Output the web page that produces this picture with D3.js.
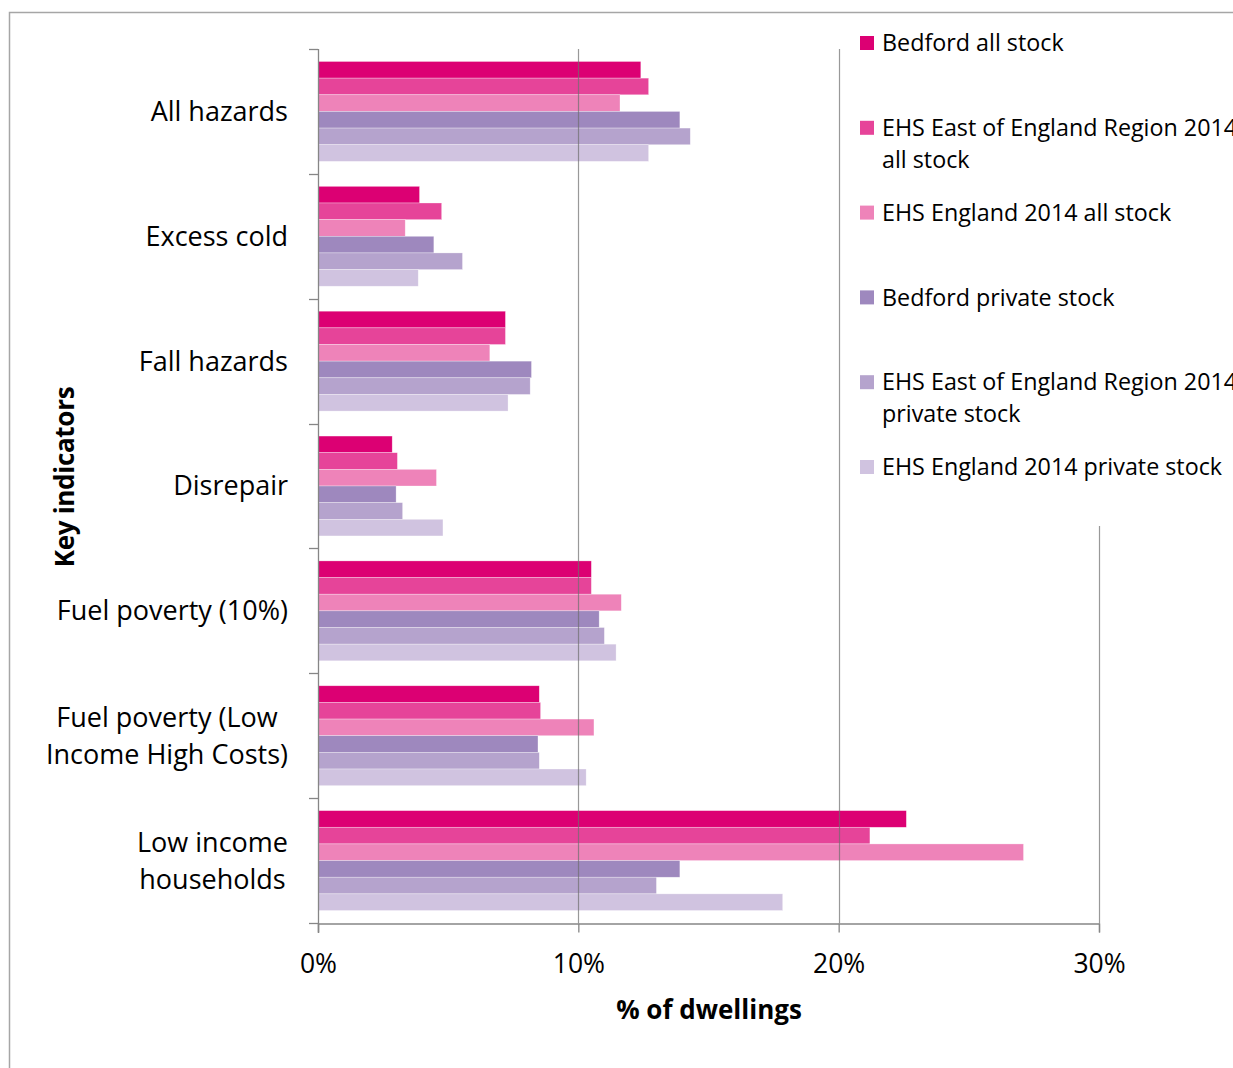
<!DOCTYPE html>
<html lang="en">
<head>
<meta charset="UTF-8">
<title>Key indicators - % of dwellings</title>
<style>
    body {
        margin: 0;
        background: #fff;
        font-family: "Open Sans", "Noto Sans", sans-serif;
    }
    svg text { fill: #000; }
</style>
<script src="https://d3js.org/d3.v7.min.js"></script>
</head>
<body>
<div id="chart"></div>
<script>
// categories, top to bottom (label lines)
var categories = ["All hazards", "Excess cold", "Fall hazards", "Disrepair",
    "Fuel poverty (10%)", "Fuel poverty (Low Income High Costs)", "Low income households"];
var categoryLines = [["All hazards"], ["Excess cold"], ["Fall hazards"], ["Disrepair"],
    ["Fuel poverty (10%)"], ["Fuel poverty (Low", "Income High Costs)"], ["Low income", "households"]];

var seriesNames = ["Bedford all stock", "EHS East of England Region 2014 all stock",
    "EHS England 2014 all stock", "Bedford private stock",
    "EHS East of England Region 2014 private stock", "EHS England 2014 private stock"];
var legendLines = [["Bedford all stock"], ["EHS East of England Region 2014", "all stock"],
    ["EHS England 2014 all stock"], ["Bedford private stock"],
    ["EHS East of England Region 2014", "private stock"], ["EHS England 2014 private stock"]];
var colors = ["#dc0073", "#e64499", "#ee83b9", "#9e88be", "#b5a3cd", "#d0c3e0"];

// % of dwellings, one array per series, same order as categories
var bedfordAll      = [12.4, 3.9, 7.2, 2.85, 10.5, 8.5, 22.6];
var eastAll         = [12.7, 4.75, 7.2, 3.05, 10.5, 8.55, 21.2];
var englandAll      = [11.6, 3.35, 6.6, 4.55, 11.65, 10.6, 27.1];
var bedfordPrivate  = [13.9, 4.45, 8.2, 3.0, 10.8, 8.45, 13.9];
var eastPrivate     = [14.3, 5.55, 8.15, 3.25, 11.0, 8.5, 13.0];
var englandPrivate  = [12.7, 3.85, 7.3, 4.8, 11.45, 10.3, 17.85];
var seriesValues = [bedfordAll, eastAll, englandAll, bedfordPrivate, eastPrivate, englandPrivate];

var xTicks = [0, 10, 20, 30];

var W = 1233, H = 1068;
var plot = {left: 318, right: 1099, top: 49, bottom: 923};
var axisColor = "#868686";

var svg = d3.select("#chart").append("svg")
    .attr("width", W).attr("height", H);

// outer frame (cropped on right and bottom)
svg.append("path")
    .attr("d", "M9.5," + H + "V12.5H" + W)
    .attr("fill", "none").attr("stroke", "#a6a6a6").attr("stroke-width", 1.5);

var x = d3.scaleLinear().domain([0, 30]).range([plot.left, plot.right]);
var y = d3.scaleBand().domain(categories).range([plot.top, plot.bottom]).padding(0);
var yInner = d3.scaleBand().domain(seriesNames)
    .range([y.bandwidth() * 0.1, y.bandwidth() * 0.9]).padding(0);

// bars
var rows = [];
categories.forEach(function(c, ci) {
    seriesNames.forEach(function(s, si) {
        rows.push({cat: c, series: s, si: si, value: seriesValues[si][ci]});
    });
});

svg.append("g").selectAll("rect")
    .data(rows)
    .join("rect")
    .attr("x", x(0))
    .attr("y", function(d) { return y(d.cat) + yInner(d.series); })
    .attr("width", function(d) { return x(d.value) - x(0); })
    .attr("height", yInner.bandwidth())
    .attr("fill", function(d) { return colors[d.si]; })
    .attr("stroke", "#fff").attr("stroke-opacity", 0.5).attr("stroke-width", 0.6);

// gridlines (drawn over bars, partly see-through)
svg.append("g").selectAll("line")
    .data(xTicks.slice(1))
    .join("line")
    .attr("x1", function(d) { return Math.round(x(d)) + 0.5; })
    .attr("x2", function(d) { return Math.round(x(d)) + 0.5; })
    .attr("y1", plot.top).attr("y2", plot.bottom)
    .attr("stroke", "#6e6e6e").attr("stroke-opacity", 0.7).attr("stroke-width", 1.2);

// x axis
var xAxis = svg.append("g")
    .attr("transform", "translate(0," + (plot.bottom + 0.5) + ")")
    .call(d3.axisBottom(x).tickValues(xTicks).tickSize(9).tickPadding(22)
        .tickFormat(function(d) { return d + "%"; }));
xAxis.select(".domain").attr("stroke", axisColor).attr("stroke-width", 1.3);
xAxis.selectAll(".tick line").attr("stroke", axisColor).attr("stroke-width", 1.3);
xAxis.selectAll("text")
    .attr("font-family", "Open Sans").attr("font-size", 26.5).attr("fill", "#000");

// y axis: line and ticks at category boundaries
var yAxisG = svg.append("g");
yAxisG.append("line")
    .attr("x1", plot.left + 0.5).attr("x2", plot.left + 0.5)
    .attr("y1", plot.top).attr("y2", plot.bottom + 10)
    .attr("stroke", axisColor).attr("stroke-width", 1.3);
var bounds = categories.map(function(c) { return y(c); }).concat([plot.bottom]);
yAxisG.selectAll("line.tk")
    .data(bounds)
    .join("line").attr("class", "tk")
    .attr("x1", plot.left - 9).attr("x2", plot.left)
    .attr("y1", function(d) { return Math.round(d) + 0.5; })
    .attr("y2", function(d) { return Math.round(d) + 0.5; })
    .attr("stroke", axisColor).attr("stroke-width", 1.3);

// category labels (multi-line ones are centered within their block)
var labelRight = 288, catSize = 27, lineH = 37;
categories.forEach(function(c, ci) {
    var lines = categoryLines[ci];
    var cy = y(c) + y.bandwidth() / 2;
    var g = svg.append("g");
    var texts = lines.map(function(l, li) {
        return g.append("text")
            .attr("y", cy + (li - (lines.length - 1) / 2) * lineH)
            .attr("dy", "0.35em")
            .attr("font-size", catSize)
            .text(l);
    });
    if (lines.length === 1) {
        texts[0].attr("x", labelRight).attr("text-anchor", "end");
    } else {
        var maxW = d3.max(texts, function(t) { return t.node().getComputedTextLength(); });
        texts.forEach(function(t) {
            t.attr("x", labelRight - maxW / 2).attr("text-anchor", "middle");
        });
    }
});

// axis titles
svg.append("text")
    .attr("x", 709).attr("y", 1010).attr("dy", "0.35em")
    .attr("text-anchor", "middle")
    .attr("font-size", 26).attr("font-weight", "bold")
    .text("% of dwellings");

svg.append("text")
    .attr("transform", "translate(65,477) rotate(-90)")
    .attr("dy", "0.35em")
    .attr("text-anchor", "middle")
    .attr("font-size", 26).attr("font-weight", "bold")
    .attr("letter-spacing", -0.3)
    .text("Key indicators");

// legend with white background hiding gridline behind it
var legend = svg.append("g");
legend.append("rect")
    .attr("x", 846).attr("y", 20).attr("width", W - 846).attr("height", 506)
    .attr("fill", "#fff");
var legendStep = 84.8, legendTop = 43;
seriesNames.forEach(function(s, i) {
    var cy = legendTop + i * legendStep;
    legend.append("rect")
        .attr("x", 860).attr("y", cy - 7).attr("width", 14).attr("height", 14)
        .attr("fill", colors[i]);
    legendLines[i].forEach(function(l, li) {
        legend.append("text")
            .attr("x", 882).attr("y", cy + li * 32).attr("dy", "0.35em")
            .attr("font-size", 23.3)
            .text(l);
    });
});
</script>
</body>
</html>
